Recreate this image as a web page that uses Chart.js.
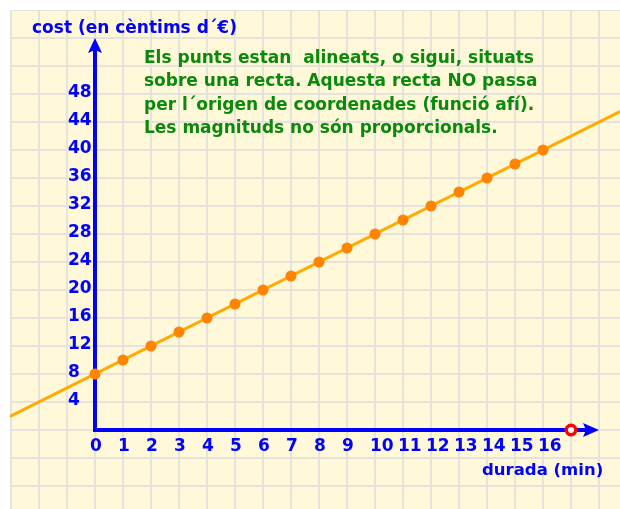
<!DOCTYPE html>
<html><head><meta charset="utf-8">
<script src="https://cdn.jsdelivr.net/npm/chart.js@4/dist/chart.umd.min.js"></script>
<style>html,body{margin:0;padding:0;background:#ffffff;} canvas{display:block;}</style>
</head><body>
<canvas id="c" width="620" height="509"></canvas>
<script>
// ---- data ----
const durada = [0,1,2,3,4,5,6,7,8,9,10,11,12,13,14,15,16];
const cost   = [8,10,12,14,16,18,20,22,24,26,28,30,32,34,36,38,40];
const xTickLabels = [0,1,2,3,4,5,6,7,8,9,10,11,12,13,14,15,16];
const yTickLabels = [4,8,12,16,20,24,28,32,36,40,44,48];
const puntVermellX = [17];
const puntVermellY = [0];
const titolY = 'cost (en cèntims d´€)';
const titolX = 'durada (min)';
const nota = [
  'Els punts estan  alineats, o sigui, situats',
  'sobre una recta. Aquesta recta NO passa',
  'per l´origen de coordenades (funció afí).',
  'Les magnituds no són proporcionals.'
];

// ---- styles ----
const BLUE = '#0000ff';
const FONT = 'bold 17px "DejaVu Sans", Verdana, sans-serif';
const XTITLEFONT = 'bold 16.5px "DejaVu Sans", Verdana, sans-serif';
const TICKFONT = 'bold 17px "DejaVu Sans", Verdana, sans-serif';

const paperPlugin = {
  id: 'paper',
  beforeDatasetsDraw(chart) {
    const ctx = chart.ctx, a = chart.chartArea;
    const xs = chart.scales.x, ys = chart.scales.y;
    ctx.save();
    ctx.fillStyle = '#fff8d9';
    ctx.fillRect(a.left, a.top, a.right - a.left, a.bottom - a.top);
    ctx.beginPath(); ctx.rect(a.left, a.top, a.right - a.left, a.bottom - a.top); ctx.clip();
    // grid
    ctx.strokeStyle = '#e5e3dc';
    ctx.lineWidth = 2;
    for (let v = Math.ceil(xs.min); v <= xs.max; v++) {
      const p = Math.round(xs.getPixelForValue(v));
      ctx.beginPath(); ctx.moveTo(p, a.top); ctx.lineTo(p, a.bottom); ctx.stroke();
    }
    for (let v = Math.ceil(ys.min / 4) * 4; v <= ys.max; v += 4) {
      const p = Math.round(ys.getPixelForValue(v));
      ctx.beginPath(); ctx.moveTo(a.left, p); ctx.lineTo(a.right, p); ctx.stroke();
    }
    // extended straight line through the data points
    const n = durada.length - 1;
    const x1 = xs.getPixelForValue(durada[0]), y1 = ys.getPixelForValue(cost[0]);
    const x2 = xs.getPixelForValue(durada[n]), y2 = ys.getPixelForValue(cost[n]);
    const m = (y2 - y1) / (x2 - x1);
    ctx.strokeStyle = '#ffaa00';
    ctx.lineWidth = 3;
    ctx.beginPath();
    ctx.moveTo(a.left, y1 + m * (a.left - x1));
    ctx.lineTo(a.right, y1 + m * (a.right - x1));
    ctx.stroke();

    // axes
    const ox = xs.getPixelForValue(0), oy = ys.getPixelForValue(0);
    const yTip = ys.getPixelForValue(56);
    const xTip = xs.getPixelForValue(18);
    ctx.strokeStyle = BLUE; ctx.fillStyle = BLUE;
    ctx.lineWidth = 4; ctx.lineCap = 'butt';
    ctx.beginPath();
    ctx.moveTo(ox, oy + 2); ctx.lineTo(ox, yTip + 10);
    ctx.moveTo(ox - 2, oy); ctx.lineTo(xTip - 10, oy);
    ctx.stroke();
    ctx.beginPath();
    ctx.moveTo(ox, yTip); ctx.lineTo(ox - 7, yTip + 15); ctx.lineTo(ox, yTip + 12); ctx.lineTo(ox + 7, yTip + 15); ctx.closePath();
    ctx.fill();
    ctx.beginPath();
    ctx.moveTo(xTip, oy); ctx.lineTo(xTip - 16, oy - 7); ctx.lineTo(xTip - 13, oy); ctx.lineTo(xTip - 16, oy + 7); ctx.closePath();
    ctx.fill();

    // tick labels
    ctx.font = TICKFONT;
    ctx.textBaseline = 'middle';
    ctx.textAlign = 'left';
    yTickLabels.forEach(v => {
      ctx.fillText(String(v), ox - 27, ys.getPixelForValue(v) - 1);
    });
    xTickLabels.forEach(v => {
      ctx.fillText(String(v), xs.getPixelForValue(v) - 5, oy + 17);
    });
    // axis titles
    ctx.font = FONT;
    ctx.textBaseline = 'alphabetic';
    ctx.fillText(titolY, 32, 33);
    ctx.font = XTITLEFONT;
    ctx.fillText(titolX, 482, 475);
    // note
    ctx.font = FONT;
    ctx.fillStyle = '#0a8a0a';
    nota.forEach((t, i) => ctx.fillText(t, 144, 62.5 + i * 23.5));
    ctx.restore();
  }
};

new Chart(document.getElementById('c'), {
  type: 'scatter',
  data: {
    datasets: [
      {
        data: durada.map((x, i) => ({x, y: cost[i]})),
        showLine: false,
        pointRadius: 5.5,
        pointHoverRadius: 5.5,
        pointBackgroundColor: '#ff8400',
        pointBorderWidth: 0,
        borderColor: '#ff8400'
      },
      {
        data: puntVermellX.map((x, i) => ({x, y: puntVermellY[i]})),
        showLine: false,
        pointRadius: 4.75,
        pointHoverRadius: 4.75,
        pointBackgroundColor: '#ffffff',
        pointBorderColor: '#ff0000',
        pointBorderWidth: 3.5
      }
    ]
  },
  options: {
    responsive: false,
    animation: false,
    layout: { autoPadding: false, padding: { left: 10, top: 10, right: 0, bottom: 0 } },
    plugins: { legend: { display: false }, tooltip: { enabled: false } },
    scales: {
      x: { type: 'linear', display: false, min: -85 / 28, max: 525 / 28 },
      y: { type: 'linear', display: false, min: -79 / 7, max: 60 }
    }
  },
  plugins: [paperPlugin]
});
</script>
</body></html>
